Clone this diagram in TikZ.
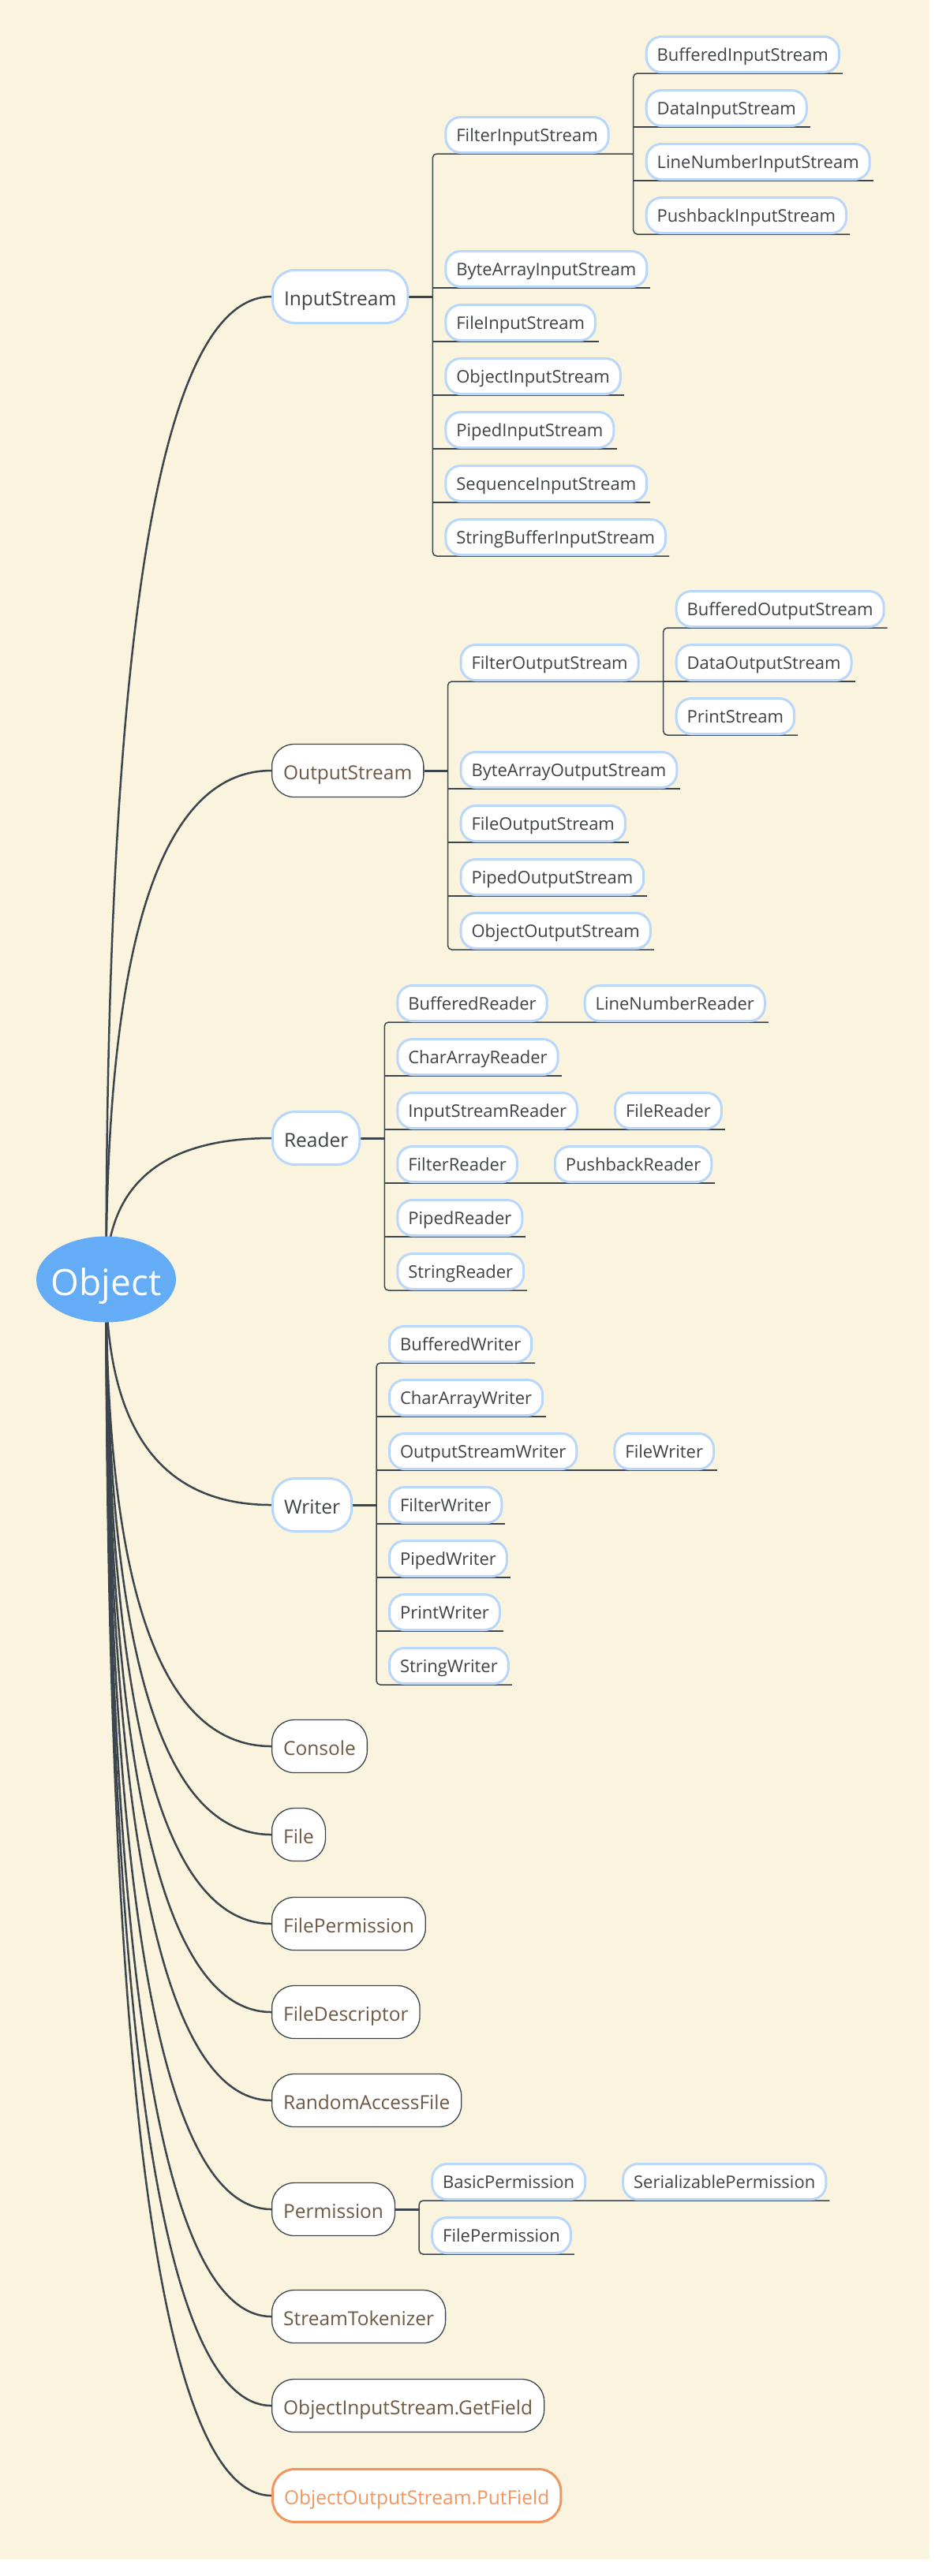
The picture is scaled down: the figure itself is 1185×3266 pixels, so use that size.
\documentclass[tikz,border=0pt]{standalone}
\usepackage{fontspec}
\setmainfont{Open Sans}
\usetikzlibrary{positioning,calc,shapes.geometric}
\definecolor{cream}{RGB}{250,244,222}
\definecolor{trunk}{RGB}{60,69,77}
\definecolor{topblue}{RGB}{101,172,246}
\definecolor{paleblue}{RGB}{184,215,250}
\definecolor{inkgray}{RGB}{63,66,70}
\definecolor{bark}{RGB}{110,88,66}
\definecolor{peach}{RGB}{240,150,98}
\pgfdeclarelayer{bg}
\pgfsetlayers{bg,main}
\tikzset{
  root/.style={ellipse, fill=topblue, minimum width=177pt, minimum height=109pt, inner sep=0pt,
    text=white, font=\fontsize{46}{50}\selectfont, text height=42pt, text depth=2pt},
  topic/.style={draw=paleblue, line width=3pt, fill=white, rounded corners=28pt, anchor=west,
    minimum height=67pt, inner xsep=14.5pt, text=inkgray,
    font=\fontsize{24.5}{28}\selectfont, text height=24pt, text depth=1.4pt},
  plain/.style={topic, draw=trunk, line width=1.3pt, text=bark},
  sub/.style={draw=paleblue, line width=3pt, fill=white, rounded corners=19pt, anchor=west,
    minimum height=45pt, inner xsep=13.5pt, text=inkgray,
    font=\fontsize{22}{26}\selectfont, text height=20pt, text depth=2.4pt},
  curve/.style={draw=trunk, line width=2.5pt},
  stub/.style={draw=trunk, line width=3pt},
  rail/.style={draw=trunk, line width=1.5pt, rounded corners=5pt}
}

\begin{document}
\begin{tikzpicture}[x=1pt,y=-1pt]
\useasboundingbox (0,0) rectangle (1185,3266);

% centre
\node[root] (obj) at (134.5,1622) {\makebox[0pt]{Object}};

% first level
\node[topic] (in) at (344,376) {InputStream};
\node[plain] (out) at (344,977) {OutputStream};
\node[topic] (rd) at (344,1443) {Reader};
\node[topic] (wr) at (344,1908) {Writer};
\foreach \n/\t/\y in {con/Console/2214, file/File/2326, fperm/FilePermission/2439,
  fdes/FileDescriptor/2551, raf/RandomAccessFile/2663, perm/Permission/2801,
  stok/StreamTokenizer/2937, getf/ObjectInputStream.GetField/3050}
  \node[plain] (\n) at (344,\y) {\t};
\node[plain, draw=peach, line width=3pt, text=peach] (putf) at (344,3164) {ObjectOutputStream.PutField};

% InputStream
\coordinate (inrail) at ([xshift=30]in.east);
\node[sub, xshift=15] (fins) at (inrail |- 0,171) {FilterInputStream};
\foreach \n/\t/\y in {bais/ByteArrayInputStream/341, fis/FileInputStream/409,
  ois/ObjectInputStream/477, pis/PipedInputStream/545, seis/SequenceInputStream/613,
  sbis/StringBufferInputStream/681}
  \node[sub, xshift=15] (\n) at (inrail |- 0,\y) {\t};
\coordinate (finsrail) at ([xshift=30]fins.east);
\foreach \n/\t/\y in {buis/BufferedInputStream/69, dis/DataInputStream/137,
  lnis/LineNumberInputStream/205, pbis/PushbackInputStream/273}
  \node[sub, xshift=15] (\n) at (finsrail |- 0,\y) {\t};

% OutputStream
\coordinate (outrail) at ([xshift=30]out.east);
\node[sub, xshift=15] (fous) at (outrail |- 0,840) {FilterOutputStream};
\foreach \n/\t/\y in {baos/ByteArrayOutputStream/976, fos/FileOutputStream/1044,
  pos/PipedOutputStream/1112, oos/ObjectOutputStream/1180}
  \node[sub, xshift=15] (\n) at (outrail |- 0,\y) {\t};
\coordinate (fousrail) at ([xshift=30]fous.east);
\foreach \n/\t/\y in {buos/BufferedOutputStream/772, dos/DataOutputStream/840,
  prs/PrintStream/908}
  \node[sub, xshift=15] (\n) at (fousrail |- 0,\y) {\t};

% Reader
\coordinate (rdrail) at ([xshift=30]rd.east);
\foreach \n/\t/\y in {bfr/BufferedReader/1272, car/CharArrayReader/1340,
  isr/InputStreamReader/1408, ftr/FilterReader/1476, ppr/PipedReader/1544,
  str/StringReader/1612}
  \node[sub, xshift=15] (\n) at (rdrail |- 0,\y) {\t};
\node[sub, right=45pt of bfr] (lnr) {LineNumberReader};
\node[sub, right=45pt of isr] (frd) {FileReader};
\node[sub, right=45pt of ftr] (pbr) {PushbackReader};

% Writer
\coordinate (wrrail) at ([xshift=30]wr.east);
\foreach \n/\t/\y in {bfw/BufferedWriter/1704, caw/CharArrayWriter/1772,
  osw/OutputStreamWriter/1840, ftw/FilterWriter/1908, ppw/PipedWriter/1976,
  prw/PrintWriter/2044, stw/StringWriter/2112}
  \node[sub, xshift=15] (\n) at (wrrail |- 0,\y) {\t};
\node[sub, right=45pt of osw] (fwr) {FileWriter};

% Permission
\coordinate (permrail) at ([xshift=30]perm.east);
\node[sub, xshift=15] (bper) at (permrail |- 0,2766) {BasicPermission};
\node[sub, xshift=15] (cfp) at (permrail |- 0,2834) {FilePermission};
\node[sub, right=45pt of bper] (sper) {SerializablePermission};

\begin{pgfonlayer}{bg}
\fill[white] (0,0) rectangle (1185,3266);
\fill[cream] (0,0) rectangle (1178,3245);
\foreach \n in {in,out,rd,wr,con,file,fperm,fdes,raf,perm,stok,getf,putf}
  \draw[curve] (obj.center) .. controls ($(obj.center)!0.667!(obj.center |- \n.west)$)
    and ($(\n.west)!0.667!(obj.center |- \n.west)$) .. (\n.west);

\foreach \n in {in,out,rd,wr,perm}
  \draw[stub] (\n.east) -- (\n rail);

\draw[rail] (finsrail |- fins.south) -- (inrail |- fins.south) -- (inrail |- sbis.south) -- ([xshift=3]sbis.south east);
\foreach \n in {bais,fis,ois,pis,seis}
  \draw[rail] (inrail |- \n.south) -- ([xshift=3]\n.south east);
\draw[rail] ([xshift=3]buis.south east) -- (finsrail |- buis.south) -- (finsrail |- pbis.south) -- ([xshift=3]pbis.south east);
\foreach \n in {dis,lnis}
  \draw[rail] (finsrail |- \n.south) -- ([xshift=3]\n.south east);

\draw[rail] (fousrail |- fous.south) -- (outrail |- fous.south) -- (outrail |- oos.south) -- ([xshift=3]oos.south east);
\foreach \n in {baos,fos,pos}
  \draw[rail] (outrail |- \n.south) -- ([xshift=3]\n.south east);
\draw[rail] ([xshift=3]buos.south east) -- (fousrail |- buos.south) -- (fousrail |- prs.south) -- ([xshift=3]prs.south east);
\draw[rail] (fousrail |- dos.south) -- ([xshift=3]dos.south east);

\draw[rail] ([xshift=3]lnr.south east) -- (rdrail |- bfr.south) -- (rdrail |- str.south) -- ([xshift=3]str.south east);
\foreach \a/\b in {car/car, isr/frd, ftr/pbr, ppr/ppr}
  \draw[rail] (rdrail |- \a.south) -- ([xshift=3]\b.south east);

\draw[rail] ([xshift=3]bfw.south east) -- (wrrail |- bfw.south) -- (wrrail |- stw.south) -- ([xshift=3]stw.south east);
\foreach \a/\b in {caw/caw, osw/fwr, ftw/ftw, ppw/ppw, prw/prw}
  \draw[rail] (wrrail |- \a.south) -- ([xshift=3]\b.south east);

\draw[rail] ([xshift=3]sper.south east) -- (permrail |- bper.south) -- (permrail |- cfp.south) -- ([xshift=3]cfp.south east);
\end{pgfonlayer}
\end{tikzpicture}
\end{document}
